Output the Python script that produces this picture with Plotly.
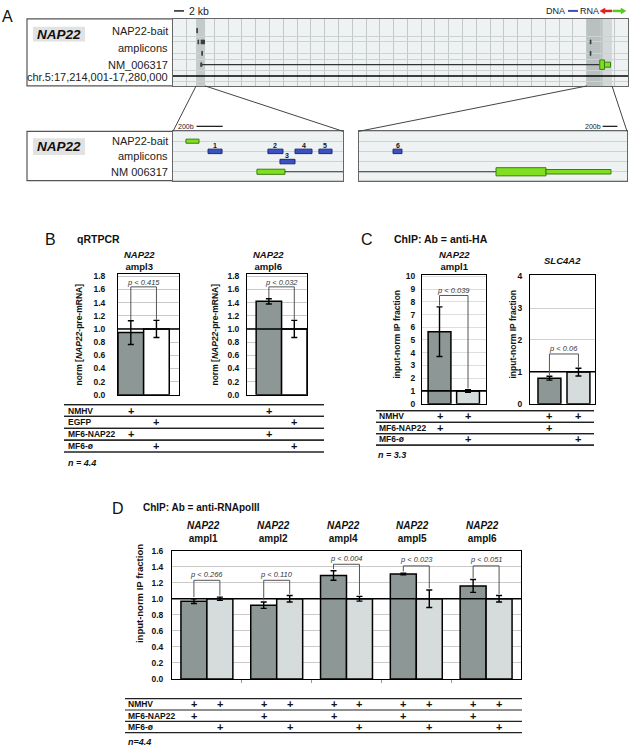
import plotly.graph_objects as go

W, H = 630, 752
FONT = "Liberation Sans, Arial, Helvetica, sans-serif"
DARK = "#8d9896"
LIGHT = "#d6dcdc"
BLUE = "#3c50c0"
BLUE_EDGE = "#1b2a7a"
GREEN = "#80e020"
GREEN_EDGE = "#3a7c12"

# ======================= DATA =======================
# Panel A: genome browser view, chr.5:17,214,001-17,280,000
overview_kb = [0, 66]                 # overview window (kb offsets)
zoom_left_kb = [3.35, 4.65]           # region shown in the left detail box
zoom_right_kb = [60.05, 63.68]        # region shown in the right detail box
zoom_right_core_kb = [60.05, 62.3]    # darker part of right shaded region
detail_left_bp = [0, 1300]
detail_right_bp = [0, 3630]
bait_bp = [99, 199]                   # NAP22-bait (left detail)
amp_labels = ["1", "2", "3", "4", "5"]
amp_start_bp = [268, 726, 818, 933, 1116]
amp_end_bp = [375, 841, 933, 1063, 1216]
amp_row = [1, 1, 2, 1, 1]
amp6_label = "6"
amp6_bp = [461, 582]                  # right detail
nm_exon1_bp = [642, 856]              # left detail
nm_exon2_cds_bp = [1856, 2533]        # right detail
nm_exon2_utr_bp = [2533, 3413]
scale_overview_kb = 2
scale_detail_bp = 200
top_track_labels = ["NAP22-bait", "amplicons", "NM_006317", "chr.5:17,214,001-17,280,000"]
detail_track_labels = ["NAP22-bait", "amplicons", "NM 006317"]

# Panel B: qRTPCR
b_titles = ["ampl3", "ampl6"]
b_ampl3 = [0.945, 1.00]
b_ampl3_err = [0.18, 0.13]
b_ampl6 = [1.42, 1.00]
b_ampl6_err = [0.04, 0.13]
b_p = ["p < 0.415", "p < 0.032"]
b_yticks = [0.0, 0.2, 0.4, 0.6, 0.8, 1.0, 1.2, 1.4, 1.6, 1.8]
b_rows = ["NMHV", "EGFP", "MF6-NAP22", "MF6-ø"]
b_plus = [[1, 0], [0, 1], [1, 0], [0, 1]]
b_n = "n = 4.4"

# Panel C: ChIP anti-HA
c_nap22 = [5.65, 1.00]
c_nap22_err = [1.95, 0.10]
c_slc = [0.80, 0.99]
c_slc_err = [0.06, 0.12]
c_p = ["p < 0.039", "p < 0.06"]
c_yticks_nap22 = [0, 1, 2, 3, 4, 5, 6, 7, 8, 9, 10]
c_yticks_slc = [0, 1, 2, 3, 4]
c_rows = ["NMHV", "MF6-NAP22", "MF6-ø"]
c_plus = [[1, 1], [1, 0], [0, 1]]
c_n = "n = 3.3"

# Panel D: ChIP anti-RNApolII
d_amplicons = ["ampl1", "ampl2", "ampl4", "ampl5", "ampl6"]
d_nap22 = [0.97, 0.92, 1.29, 1.31, 1.16]
d_nap22_err = [0.03, 0.04, 0.06, 0.01, 0.08]
d_empty = [1.00, 1.00, 1.00, 1.00, 1.00]
d_empty_err = [0.02, 0.04, 0.03, 0.11, 0.04]
d_p = ["p < 0.266", "p < 0.110", "p < 0.004", "p < 0.023", "p < 0.051"]
d_yticks = [0.0, 0.2, 0.4, 0.6, 0.8, 1.0, 1.2, 1.4, 1.6]
d_rows = ["NMHV", "MF6-NAP22", "MF6-ø"]
d_plus = [[1, 1], [1, 0], [0, 1]]
d_n = "n=4.4"

# ======================= LAYOUT HELPERS =======================
def X(px):
    return px / W

def Y(py):
    return 1 - py / H

shapes = []
ann = []

def text(x, y, t, size=9, color="#111", xanchor="center", yanchor="middle",
         angle=0, xref="paper", yref="paper"):
    ann.append(dict(x=x, y=y, xref=xref, yref=yref, text=t, showarrow=False,
                    font=dict(family=FONT, size=size, color=color),
                    xanchor=xanchor, yanchor=yanchor, textangle=angle,
                    borderpad=0))

def pline(x0, y0, x1, y1, color="#222", width=1):
    shapes.append(dict(type="line", xref="paper", yref="paper",
                       x0=X(x0), y0=Y(y0), x1=X(x1), y1=Y(y1),
                       line=dict(color=color, width=width)))

def prect(x0, y0, x1, y1, fill, color="#555", width=1, layer="below"):
    shapes.append(dict(type="rect", xref="paper", yref="paper",
                       x0=X(x0), y0=Y(y1), x1=X(x1), y1=Y(y0),
                       fillcolor=fill, line=dict(color=color, width=width),
                       layer=layer))

layout = dict(width=W, height=H, margin=dict(l=0, r=0, t=0, b=0),
              autosize=False, paper_bgcolor="white", plot_bgcolor="white",
              showlegend=False, barmode="overlay",
              font=dict(family=FONT, size=9, color="#111"))

fig = go.Figure()

def ax_names(n):
    s = "" if n == 1 else str(n)
    return "x" + s, "y" + s, "xaxis" + s, "yaxis" + s

# ======================= BAR CHART AXES =======================
def bar_axes(n, xpx, ypx, xr, yr, yt, ytt, standoff, gridcolor="#c9c9c9"):
    xa, ya, xk, yk = ax_names(n)
    layout[xk] = dict(domain=[X(xpx[0]), X(xpx[1])], range=xr, anchor=ya,
                      showticklabels=False, showgrid=False, zeroline=False,
                      showline=True, mirror=True, linecolor="black",
                      linewidth=1, ticks="", fixedrange=True)
    layout[yk] = dict(domain=[Y(ypx[1]), Y(ypx[0])], range=yr, anchor=xa,
                      tickvals=yt, ticktext=ytt,
                      tickfont=dict(family=FONT, size=8.5, color="#111",
                                    weight="bold"),
                      showgrid=True, gridcolor=gridcolor, gridwidth=0.8,
                      zeroline=False, showline=True, mirror=True,
                      linecolor="black", linewidth=1, ticks="",
                      ticklabelstandoff=standoff, fixedrange=True)
    # reference line at 1.0
    shapes.append(dict(type="line", xref=xa + " domain", yref=ya,
                       x0=0, x1=1, y0=1, y1=1,
                       line=dict(color="black", width=1.6)))
    return xa, ya

def bars(xa, ya, xs, vals, errs, colors, width, offset=None):
    kw = dict(x=xs, y=vals, width=width, xaxis=xa, yaxis=ya,
              marker=dict(color=colors, line=dict(color="black", width=1.5)),
              error_y=dict(type="data", array=errs, visible=True,
                           color="black", thickness=1.4, width=3),
              hoverinfo="skip")
    if offset is not None:
        kw["offset"] = offset
    fig.add_trace(go.Bar(**kw))

def bracket(xa, ya, x0, x1, yl0, yl1, ytop, ytext, label):
    shapes.append(dict(type="path", xref=xa, yref=ya,
                       path=f"M {x0},{yl0} L {x0},{ytop} L {x1},{ytop} L {x1},{yl1}",
                       line=dict(color="#555", width=1)))
    text((x0 + x1) / 2, ytext, f"<i>{label}</i>", size=7.5, color="#333",
         xref=xa, yref=ya)

def table(x0px, x1px, lines_px, rows, label_x, xa, positions, plus):
    for yl in lines_px:
        pline(x0px, yl, x1px, yl, color="#222", width=1.2)
    for r, name in enumerate(rows):
        ymid = (lines_px[r] + lines_px[r + 1]) / 2
        text(X(label_x), Y(ymid), f"<b>{name}</b>", size=8.5, xanchor="left")
        for pos, flag in zip(positions, plus[r]):
            if flag:
                text(pos, Y(ymid), "<b>+</b>", size=11, xref=xa)

# ---------------- Panel B ----------------
text(X(50), Y(238), "B", size=16)
text(X(76), Y(237), "<b>qRTPCR</b>", size=10.5, xanchor="left")
b_bracket_top, b_bracket_text, b_gap = 1.64, 1.71, 0.01
b_ylabels = [f"{v:.1f}" for v in b_yticks]
b_specs = [
    (1, [118, 179], [-0.5, 1.88], b_ampl3, b_ampl3_err, 79, 10),
    (2, [247, 307], [-0.86, 1.5], b_ampl6, b_ampl6_err, 215, 5),
]
for i, (n, xpx, xr, vals, errs, ytitle_x, so) in enumerate(b_specs):
    xa, ya = bar_axes(n, xpx, [273, 395], xr, [0, 1.83], b_yticks,
                      b_ylabels, so)
    bars(xa, ya, [0, 1], vals, errs, [DARK, "white"], 1.0)
    bracket(xa, ya, 0, 1, vals[0] + errs[0] + b_gap, vals[1] + errs[1] + b_gap,
            b_bracket_top, b_bracket_text, b_p[i])
    text(0.36, Y(272), f"<b><i>NAP22</i><br>{b_titles[i]}</b>", size=9.5,
         xref=xa + " domain", yref="paper", yanchor="bottom")
    text(X(ytitle_x), Y(334), "<b>norm [<i>NAP22</i>-pre-mRNA]</b>", size=8.5,
         angle=-90)
table(64, 324, [405, 417, 429, 441, 453], b_rows, 67, "x", [0, 1], b_plus)
table(64, 324, [405, 417, 429, 441, 453], [""] * 4, 67, "x2", [0, 1], b_plus)
text(X(67), Y(464), f"<b><i>{b_n}</i></b>", size=9, xanchor="left")

# ---------------- Panel C ----------------
text(X(367), Y(238), "C", size=16)
text(X(393), Y(237), "<b>ChIP: Ab = anti-HA</b>", size=10.5, xanchor="left")
xa, ya = bar_axes(3, [422, 486], [274, 404], [-0.614, 1.63], [0, 10.08],
                  c_yticks_nap22, [str(v) for v in c_yticks_nap22], 4,
                  gridcolor="#dddddd")
bars(xa, ya, [0, 1], c_nap22, c_nap22_err, [DARK, LIGHT], 0.8)
bracket(xa, ya, 0, 1, c_nap22[0] + c_nap22_err[0] + 0.1,
        c_nap22[1] + c_nap22_err[1] + 0.1, 8.5, 8.9, c_p[0])
text(0.5, Y(272), "<b><i>NAP22</i><br>ampl1</b>", size=9.5,
     xref=xa + " domain", yanchor="bottom")
text(X(397), Y(334), "<b>input-norm IP fraction</b>", size=8.5, angle=-90)

xa, ya = bar_axes(4, [530, 595], [274, 404], [-0.67, 1.57], [0, 4.03],
                  c_yticks_slc, [str(v) for v in c_yticks_slc], 5,
                  gridcolor="#d0d0d0")
bars(xa, ya, [0, 1], c_slc, c_slc_err, [DARK, LIGHT], 0.79)
bracket(xa, ya, 0, 1, c_slc[0] + c_slc_err[0] + 0.03,
        c_slc[1] + c_slc_err[1] + 0.03, 1.56, 1.72, c_p[1])
text(0.5, Y(259), "<b><i>SLC4A2</i></b>", size=9.5, xref=xa + " domain")
text(X(513), Y(334), "<b>input-norm IP fraction</b>", size=8.5, angle=-90)
table(376, 594, [411, 423, 434.5, 446], c_rows, 378, "x3", [0, 1], c_plus)
table(376, 594, [411, 423, 434.5, 446], [""] * 3, 378, "x4", [0, 1], c_plus)
text(X(377), Y(456), f"<b><i>{c_n}</i></b>", size=9, xanchor="left")

# ---------------- Panel D ----------------
text(X(118), Y(510), "D", size=16)
text(X(142), Y(509), "<b>ChIP: Ab = anti-RNApolII</b>", size=10, xanchor="left")
d_idx = list(range(len(d_amplicons)))
half = 0.372
xa, ya = bar_axes(5, [172, 521], [553, 683], [-0.5, len(d_amplicons) - 0.5],
                  [0, 1.6], d_yticks, [f"{v:.1f}" for v in d_yticks], 6)
layout["xaxis5"].update(ticks="outside", ticklen=3, tickcolor="#999",
                        tickvals=[i + 0.5 for i in d_idx[:-1]])
bars(xa, ya, d_idx, d_nap22, d_nap22_err, DARK, half, offset=-half)
bars(xa, ya, d_idx, d_empty, d_empty_err, LIGHT, half, offset=0)
d_bracket_top = [1.23, 1.23, 1.43, 1.41, 1.41]
d_bracket_text = [1.30, 1.30, 1.50, 1.49, 1.49]
for i in d_idx:
    bracket(xa, ya, i - half / 2, i + half / 2,
            d_nap22[i] + d_nap22_err[i] + 0.02,
            d_empty[i] + d_empty_err[i] + 0.02,
            d_bracket_top[i], d_bracket_text[i], d_p[i])
    text(i - 0.05, Y(547), f"<b><i>NAP22</i><br>{d_amplicons[i]}</b>",
         size=10, xref=xa, yanchor="bottom")
text(X(139), Y(597), "<b>input-norm IP fraction</b>", size=9.5, angle=-90)
d_pos = [i + s * half / 2 for i in d_idx for s in (-1, 1)]
d_plus_full = [[row[0], row[1]] * len(d_idx) for row in d_plus]
table(125, 522, [703, 714.5, 726, 737.5], d_rows, 127, "x5", d_pos, d_plus_full)
text(X(127), Y(747), f"<b><i>{d_n}</i></b>", size=9, xanchor="left")

# ======================= PANEL A =======================
text(X(7), Y(12), "A", size=16)
TOP = dict(x=[173, 628], y=[14, 82])
LFT = dict(x=[173, 343], y=[128, 178])
RGT = dict(x=[359, 627], y=[128, 178])

def track_axes(n, box, xr, yr, ygrid, xgrid_dtick=None):
    xa, ya, xk, yk = ax_names(n)
    layout[xk] = dict(domain=[X(box["x"][0]), X(box["x"][1])], range=xr,
                      anchor=ya, showticklabels=False, zeroline=False,
                      showgrid=xgrid_dtick is not None,
                      dtick=xgrid_dtick, tick0=0, gridcolor="#c3c8c8",
                      gridwidth=1, showline=True, mirror=True,
                      linecolor="#666", linewidth=1, ticks="", fixedrange=True)
    layout[yk] = dict(domain=[Y(box["y"][1]), Y(box["y"][0])], range=yr,
                      anchor=xa, showticklabels=False, zeroline=False,
                      tickvals=ygrid, showgrid=True, gridcolor="#cdd2d2",
                      gridwidth=1, showline=True, mirror=True,
                      linecolor="#666", linewidth=1, ticks="", fixedrange=True)
    shapes.append(dict(type="rect", xref=xa + " domain", yref=ya + " domain",
                       x0=0, x1=1, y0=0, y1=1, fillcolor="#eff2f2",
                       line=dict(width=0), layer="below"))
    return xa, ya

def frect(xa, ya, x0, x1, row, hh, fill, edge, lw=1, kind="rect"):
    shapes.append(dict(type=kind, xref=xa, yref=ya, x0=x0, x1=x1,
                       y0=row - hh, y1=row + hh, fillcolor=fill,
                       line=dict(color=edge, width=lw)))

def fline(xa, ya, x0, x1, row, color="#333", width=1.2):
    shapes.append(dict(type="line", xref=xa, yref=ya, x0=x0, x1=x1,
                       y0=row, y1=row, line=dict(color=color, width=width)))

# outer boxes
prect(27, 14, 628, 82, "white", color="#555", width=1.2)
prect(27, 128, 343, 178, "white", color="#555", width=1.2)
prect(359, 128, 627, 178, "white", color="#555", width=1.2)
for yb in ([22, 37], [135, 152]):
    prect(33, yb[0], 85, yb[1], "#e2e2e2", color="#e2e2e2", width=0)
    text(X(59), Y((yb[0] + yb[1]) / 2), "<b><i>NAP22</i></b>", size=13.5)

# --- overview track ---
xa6, ya6 = track_axes(6, TOP, overview_kb, [4.87, -1.04],
                      [0.5, 1.0, 2.0, 2.5, 3.5, 4.45], xgrid_dtick=2)
shapes.append(dict(type="rect", xref=xa6, yref=ya6 + " domain",
                   x0=zoom_left_kb[0], x1=zoom_left_kb[1], y0=0, y1=1,
                   fillcolor="#c3caca", line=dict(width=0), layer="below"))
shapes.append(dict(type="rect", xref=xa6, yref=ya6 + " domain",
                   x0=zoom_right_kb[0], x1=zoom_right_kb[1], y0=0, y1=1,
                   fillcolor="#d3d8d8", line=dict(width=0), layer="below"))
shapes.append(dict(type="rect", xref=xa6, yref=ya6 + " domain",
                   x0=zoom_right_core_kb[0], x1=zoom_right_core_kb[1], y0=0, y1=1,
                   fillcolor="#b9c0c0", line=dict(width=0), layer="below"))

def L(bp):
    return zoom_left_kb[0] + bp / 1000.0

def R(bp):
    return zoom_right_kb[0] + bp / 1000.0

frect(xa6, ya6, L(bait_bp[0]), L(bait_bp[1]), 0, 0.2, "#555", "#333", 0.8)
for s, e, r in zip(amp_start_bp, amp_end_bp, amp_row):
    frect(xa6, ya6, L(s), L(e), r, 0.18, "#444", "#333", 0.8)
frect(xa6, ya6, R(amp6_bp[0]), R(amp6_bp[1]), 1, 0.18, "#444", "#333", 0.8)
frect(xa6, ya6, R(amp6_bp[0]), R(amp6_bp[1]), 2, 0.18, "#444", "#333", 0.8)
fline(xa6, ya6, L(nm_exon1_bp[1]), R(nm_exon2_cds_bp[0]), 3, "#333", 1.3)
frect(xa6, ya6, L(nm_exon1_bp[0]), L(nm_exon1_bp[1]), 3, 0.2, "#555", "#333",
      0.8, kind="circle")
frect(xa6, ya6, R(nm_exon2_cds_bp[0]), R(nm_exon2_cds_bp[1]), 3, 0.42, GREEN,
      GREEN_EDGE, 1)
frect(xa6, ya6, R(nm_exon2_utr_bp[0]), R(nm_exon2_utr_bp[1]), 3, 0.22, GREEN,
      GREEN_EDGE, 1)
fline(xa6, ya6, overview_kb[0], overview_kb[1], 4, "black", 1.6)
for lab, row in zip(top_track_labels, [0, 1.5, 3, 4.05]):
    text(X(169), row, lab, size=11, color="#222", xanchor="right",
         xref="paper", yref=ya6)

# scale bar + legend
shapes.append(dict(type="line", xref=xa6, yref="paper", x0=0.15,
                   x1=0.15 + scale_overview_kb * 0.72, y0=Y(6), y1=Y(6),
                   line=dict(color="#222", width=1.5)))
text(X(188), Y(6), f"{scale_overview_kb} kb", size=10.5, xanchor="left",
     color="#222")
text(X(566), Y(6), "DNA", size=9, xanchor="right", color="#222")
pline(568, 6, 578, 6, color=BLUE, width=2)
text(X(600), Y(6), "RNA", size=9, xanchor="right", color="#222")
shapes.append(dict(type="path", xref="paper", yref="paper",
                   path=f"M {X(600)},{Y(6)} L {X(605)},{Y(3)} L {X(605)},{Y(5)} "
                        f"L {X(612)},{Y(5)} L {X(612)},{Y(7)} L {X(605)},{Y(7)} "
                        f"L {X(605)},{Y(9)} Z",
                   fillcolor="#e02020", line=dict(color="#e02020", width=0.5)))
shapes.append(dict(type="path", xref="paper", yref="paper",
                   path=f"M {X(626)},{Y(6)} L {X(621)},{Y(3)} L {X(621)},{Y(5)} "
                        f"L {X(613)},{Y(5)} L {X(613)},{Y(7)} L {X(621)},{Y(7)} "
                        f"L {X(621)},{Y(9)} Z",
                   fillcolor="#55cc22", line=dict(color="#55cc22", width=0.5)))

# --- detail tracks ---
xa7, ya7 = track_axes(7, LFT, detail_left_bp, [3.87, -0.97], [0, 1, 2, 3])
xa8, ya8 = track_axes(8, RGT, detail_right_bp, [3.87, -0.97], [0, 1, 2, 3])
frect(xa7, ya7, bait_bp[0], bait_bp[1], 0, 0.2, GREEN, GREEN_EDGE, 1)
for lab, s, e, r in zip(amp_labels, amp_start_bp, amp_end_bp, amp_row):
    frect(xa7, ya7, s, e, r, 0.22, BLUE, BLUE_EDGE, 1)
    text((s + e) / 2, r - 0.62, f"<b>{lab}</b>", size=7, xref=xa7, yref=ya7)
frect(xa7, ya7, nm_exon1_bp[0], nm_exon1_bp[1], 3, 0.25, GREEN, GREEN_EDGE, 1)
fline(xa7, ya7, nm_exon1_bp[1], detail_left_bp[1], 3, "#333", 1.2)
frect(xa8, ya8, amp6_bp[0], amp6_bp[1], 1, 0.22, BLUE, BLUE_EDGE, 1)
text(sum(amp6_bp) / 2, 1 - 0.62, f"<b>{amp6_label}</b>", size=7, xref=xa8,
     yref=ya8)
fline(xa8, ya8, detail_right_bp[0], nm_exon2_cds_bp[0], 3, "#333", 1.2)
frect(xa8, ya8, nm_exon2_cds_bp[0], nm_exon2_cds_bp[1], 3, 0.4, GREEN,
      GREEN_EDGE, 1)
frect(xa8, ya8, nm_exon2_utr_bp[0], nm_exon2_utr_bp[1], 3, 0.22, GREEN,
      GREEN_EDGE, 1)
for lab, row in zip(detail_track_labels, [0, 1.5, 3]):
    text(X(169), row, lab, size=11, color="#222", xanchor="right",
         xref="paper", yref=ya7)

# 200b scale bars
for xa_, x0 in ((xa7, 180), (xa8, 3300)):
    shapes.append(dict(type="line", xref=xa_, yref="paper", x0=x0,
                       x1=x0 + scale_detail_bp, y0=Y(123), y1=Y(123),
                       line=dict(color="#222", width=1.3)))
text(X(195), Y(123), "200b", size=7, xanchor="right", color="#222")
text(X(602), Y(123), "200b", size=7, xanchor="right", color="#222")

# connecting lines (zoom trapezoids)
def kb2px(k):
    return TOP["x"][0] + (k - overview_kb[0]) / (overview_kb[1] - overview_kb[0]) * (
        TOP["x"][1] - TOP["x"][0])

pline(kb2px(zoom_left_kb[0]), 82, LFT["x"][0], 128, color="#444", width=1)
pline(kb2px(zoom_left_kb[1]), 82, LFT["x"][1], 128, color="#444", width=1)
pline(kb2px(zoom_right_kb[0]), 82, RGT["x"][0], 128, color="#444", width=1)
pline(kb2px(zoom_right_kb[1]), 82, RGT["x"][1], 128, color="#444", width=1)

layout["shapes"] = shapes
layout["annotations"] = ann
fig.update_layout(**layout)
fig.write_html("out.html", config={"displayModeBar": False},
               post_script="document.body.style.margin='0px';")
